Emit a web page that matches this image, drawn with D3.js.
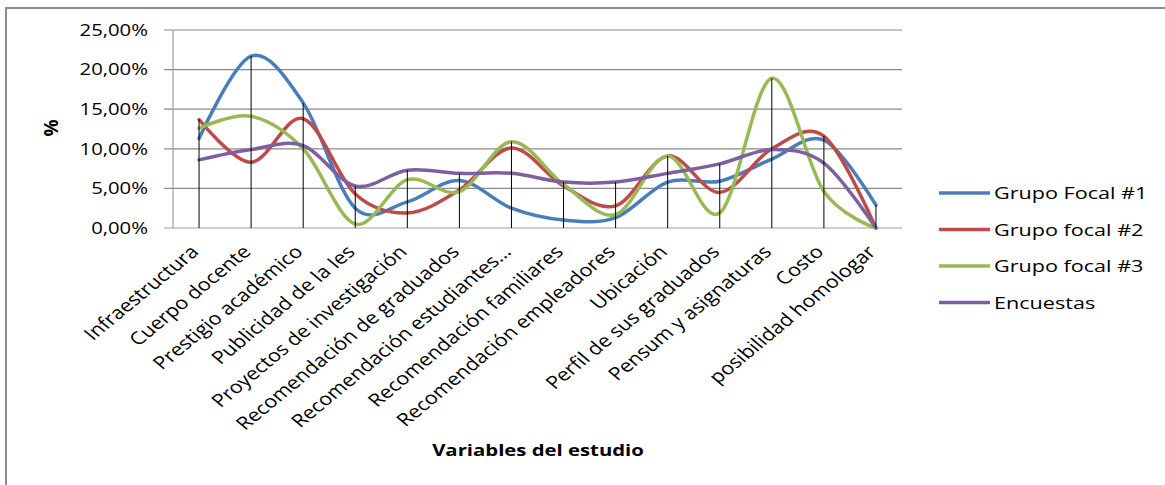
<!DOCTYPE html>
<html>
<head>
<meta charset="utf-8">
<script src="https://cdn.jsdelivr.net/npm/d3@7"></script>
<style>
  body { margin: 0; background: #fff; }
  text { font-family: "Open Sans", sans-serif; fill: #000; }
</style>
</head>
<body>
<div id="chart"></div>
<script>
// Datos (en %)
const variables = [
  "Infraestructura", "Cuerpo docente", "Prestigio académico", "Publicidad de la Ies",
  "Proyectos de investigación", "Recomendación de graduados", "Recomendación estudiantes…",
  "Recomendación familiares", "Recomendación empleadores", "Ubicación",
  "Perfil de sus graduados", "Pensum y asignaturas", "Costo", "posibilidad homologar"
];
const grupoFocal1 = [11.3, 21.7, 15.8, 2.5, 3.3, 6.0, 2.5, 1.0, 1.3, 5.8, 5.9, 8.7, 11.1, 2.9];
const grupoFocal2 = [13.7, 8.3, 13.8, 4.3, 1.9, 4.8, 10.1, 5.3, 2.8, 9.1, 4.5, 10.0, 11.6, 0];
const grupoFocal3 = [12.6, 14.1, 10.0, 0.5, 6.1, 4.6, 10.9, 5.5, 1.7, 9.1, 1.9, 18.9, 4.6, 0];
const encuestas   = [8.6, 9.9, 10.4, 5.3, 7.3, 6.9, 6.9, 5.8, 5.8, 6.9, 8.1, 9.9, 8.2, 0];
const yTicks = [0, 5, 10, 15, 20, 25];

const series = [
  { name: "Grupo Focal #1", values: grupoFocal1, color: "#4A7EBB" },
  { name: "Grupo focal #2", values: grupoFocal2, color: "#BE4B48" },
  { name: "Grupo focal #3", values: grupoFocal3, color: "#98B954" },
  { name: "Encuestas",      values: encuestas,   color: "#7D60A0" }
];

const W = 1165, H = 485;
const plot = { left: 173, right: 902, top: 30, bottom: 228 };
const sx = 1.27; // el original está estirado en horizontal

const svg = d3.select("#chart").append("svg")
  .attr("width", W).attr("height", H);

// Marco
svg.append("path")
  .attr("d", `M6,${H} V8 H${W}`)
  .attr("fill", "none").attr("stroke", "#8c8c8c").attr("stroke-width", 2);

const x = d3.scaleBand().domain(variables).range([plot.left, plot.right]);
const y = d3.scaleLinear().domain([0, 25]).range([plot.bottom, plot.top]);
const cx = d => x(d) + x.bandwidth() / 2;

// Líneas de cuadrícula y etiquetas del eje Y
svg.append("g").selectAll("line").data(yTicks).enter().append("line")
  .attr("x1", plot.left - 9).attr("x2", plot.right)
  .attr("y1", d => y(d)).attr("y2", d => y(d))
  .attr("stroke", d => d === 0 ? "#a0a0a0" : "#8a8a8a").attr("stroke-width", 1.2);

svg.append("line")
  .attr("x1", plot.left).attr("x2", plot.left)
  .attr("y1", plot.top).attr("y2", plot.bottom)
  .attr("stroke", "#a0a0a0").attr("stroke-width", 1.2);

svg.append("g").selectAll("text").data(yTicks).enter().append("text")
  .attr("transform", d => `translate(148,${y(d)}) scale(${sx},1)`)
  .attr("dy", "0.36em")
  .attr("text-anchor", "end").style("font-size", "16px")
  .text(d => d3.format(".2f")(d).replace(".", ",") + "%");

// Curvas suavizadas
const line = d3.line()
  .x((d, i) => cx(variables[i]))
  .y(d => y(d))
  .curve(d3.curveCardinal.tension(0));

svg.append("g").selectAll("path").data(series).enter().append("path")
  .attr("d", d => line(d.values))
  .attr("fill", "none").attr("stroke", d => d.color)
  .attr("stroke-width", 3.5).attr("stroke-linecap", "round");

// Líneas de unión (drop lines)
svg.append("g").selectAll("line").data(variables).enter().append("line")
  .attr("x1", d => cx(d)).attr("x2", d => cx(d))
  .attr("y1", (d, i) => y(d3.max(series, s => s.values[i])))
  .attr("y2", y(0))
  .attr("stroke", "#000").attr("stroke-width", 1);

// Etiquetas de categorías
svg.append("g").selectAll("text").data(variables).enter().append("text")
  .attr("transform", d => `translate(${cx(d) + 1},${plot.bottom + 25}) scale(1.21,1) rotate(-45)`)
  .attr("text-anchor", "end")
  .style("font-size", "17.8px")
  .text(d => d);

// Títulos de ejes
svg.append("text")
  .attr("transform", `translate(538,456) scale(${sx},1)`)
  .attr("text-anchor", "middle")
  .style("font-size", "16px").style("font-weight", "bold")
  .text("Variables del estudio");

svg.append("text")
  .attr("transform", "translate(58,128) rotate(-90)")
  .attr("text-anchor", "middle")
  .style("font-size", "19px").style("font-weight", "bold")
  .text("%");

// Leyenda
const legend = svg.append("g").selectAll("g").data(series).enter().append("g")
  .attr("transform", (d, i) => `translate(939,${193 + i * 36.5})`);
legend.append("line")
  .attr("x1", 0).attr("x2", 51)
  .attr("stroke", d => d.color).attr("stroke-width", 3.5);
legend.append("text")
  .attr("transform", `translate(55,0) scale(${sx},1)`)
  .attr("dy", "0.36em")
  .style("font-size", "17px")
  .text(d => d.name);
</script>
</body>
</html>
